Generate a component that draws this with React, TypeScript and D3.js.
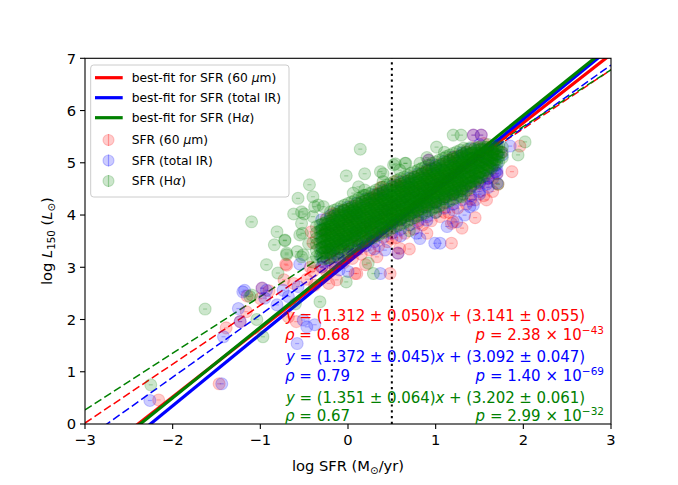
import React from "react";
import * as d3 from "d3";

// ---------- data ----------
const X_TICKS = [-3, -2, -1, 0, 1, 2, 3];
const Y_TICKS = [0, 1, 2, 3, 4, 5, 6, 7];
const X_DOMAIN = [-3, 3];
const Y_DOMAIN = [0, 7];
const VLINE_X = 0.5;

const SERIES_NAMES = ["SFR (60 μm)", "SFR (total IR)", "SFR (Hα)"];
const FIT_NAMES = ["best-fit for SFR (60 μm)", "best-fit for SFR (total IR)", "best-fit for SFR (Hα)"];

const SOLID_SLOPES = [1.312, 1.372, 1.351];
const SOLID_INTERCEPTS = [3.141, 3.092, 3.202];
const DASHED_SLOPES = [1.127, 1.195, 1.085];
const DASHED_INTERCEPTS = [3.4, 3.286, 3.525];

const EQ_SLOPE_TXT = ["1.312 ± 0.050", "1.372 ± 0.045", "1.351 ± 0.064"];
const EQ_INT_TXT = ["3.141 ± 0.055", "3.092 ± 0.047", "3.202 ± 0.061"];
const RHO_TXT = ["0.68", "0.79", "0.67"];
const P_MANT = ["2.38", "1.40", "2.99"];
const P_EXP = ["−43", "−69", "−32"];

// sparse / outlying points
const RED_POINTS: [number, number][] = [
  [-0.3, 3.0], [-0.22, 3.3], [-0.15, 3.1], [-0.08, 3.45], [0.0, 3.25], [0.05, 3.6], [0.1, 3.35], [0.15, 3.75],
  [0.2, 3.5], [0.25, 3.85], [0.3, 3.6], [0.35, 4.0], [0.4, 3.7], [0.45, 4.1], [0.5, 3.8], [0.55, 4.2],
  [0.6, 3.9], [0.65, 4.35], [0.7, 4.0], [0.75, 4.45], [0.8, 4.1], [0.85, 4.55], [0.9, 4.2], [0.95, 4.65],
  [1.0, 4.25], [1.05, 4.7], [1.1, 4.35], [1.15, 4.8], [1.2, 4.4], [1.25, 4.9], [1.3, 4.5], [1.35, 4.95],
  [1.4, 4.55], [1.45, 5.05], [1.5, 4.6], [1.55, 5.1], [1.6, 4.7], [1.65, 5.15], [1.7, 4.8], [1.75, 5.2],
  [0.3, 4.3], [0.6, 4.55], [0.9, 4.85], [1.2, 5.1], [0.0, 3.9], [-0.1, 3.7], [0.5, 3.55], [0.8, 3.85],
  [1.1, 4.05], [1.4, 4.3],
  [-2.16, 0.46], [-1.47, 0.77], [-1.39, 1.84], [-1.16, 2.15], [-0.42, 3.68], [-0.4, 3.47], [-0.71, 3.06],
  [-0.43, 3.0], [-0.73, 2.76], [-0.62, 2.69], [-0.47, 2.77], [-0.38, 2.66], [-0.68, 2.05], [-0.59, 1.96],
  [-0.17, 4.03], [-0.26, 3.68], [0.54, 4.64], [0.33, 4.4], [0.38, 4.53], [1.18, 3.46], [1.2, 3.87],
  [0.9, 3.65], [0.59, 3.36], [0.48, 2.88], [0.33, 3.2], [0.1, 2.88], [-0.13, 2.76], [-0.22, 2.69],
  [1.96, 5.32], [1.87, 4.83], [1.71, 4.59], [1.58, 4.29], [-0.4, 2.92], [0.08, 2.88], [-0.7, 3.04],
  [-1.0, 2.4], [-0.9, 2.55], [1.18, 3.84], [0.92, 5.05], [1.43, 5.53], [1.52, 5.53], [0.57, 3.27],
  [-0.98, 2.6], [-1.23, 1.96], [-1.15, 2.45], [1.45, 3.95], [1.3, 3.75], [0.7, 3.35], [0.2, 3.05],
];

const BLUE_POINTS: [number, number][] = [
  [-0.28, 3.1], [-0.2, 3.35], [-0.12, 3.2], [-0.05, 3.5], [0.02, 3.35], [0.08, 3.65], [0.14, 3.45], [0.2, 3.8],
  [0.26, 3.6], [0.32, 3.95], [0.38, 3.75], [0.44, 4.1], [0.5, 3.85], [0.56, 4.2], [0.62, 3.95], [0.68, 4.3],
  [0.74, 4.05], [0.8, 4.4], [0.86, 4.15], [0.92, 4.5], [0.98, 4.25], [1.04, 4.6], [1.1, 4.35], [1.16, 4.7],
  [1.22, 4.45], [1.28, 4.8], [1.34, 4.55], [1.4, 4.9], [1.46, 4.65], [1.52, 5.0], [1.58, 4.75], [1.64, 5.05],
  [1.7, 4.85], [1.76, 5.15], [0.4, 4.4], [0.7, 4.6], [1.0, 4.9], [1.3, 5.15], [0.1, 4.0], [0.6, 3.6],
  [0.9, 3.9], [1.2, 4.1], [1.5, 4.4], [-0.1, 2.95], [0.3, 3.35],
  [-2.26, 0.45], [-1.44, 0.77], [-1.42, 1.67], [-1.18, 2.56], [-1.25, 2.21], [-1.2, 2.53], [-0.98, 2.6],
  [-0.93, 2.56], [-0.95, 2.41], [-1.23, 1.96], [-0.55, 3.06], [-0.74, 2.56], [-0.68, 2.44], [-0.81, 2.28],
  [-0.57, 2.63], [-0.51, 1.99], [-0.47, 1.86], [-0.58, 1.54], [-0.38, 1.9], [0.92, 5.05], [0.99, 3.46],
  [0.78, 3.65], [1.24, 3.87], [1.13, 3.78], [0.57, 3.27], [0.37, 2.88], [0.0, 2.92], [0.42, 3.33],
  [1.43, 5.53], [1.52, 5.53], [1.85, 5.32], [1.58, 4.59], [1.68, 4.83], [1.43, 4.19], [1.39, 4.16],
  [1.05, 3.46], [0.82, 3.55], [1.33, 4.0],
];

const GREEN_POINTS: [number, number][] = [
  [-2.25, 0.75], [-1.63, 2.2], [-1.1, 3.87], [-1.12, 2.44], [-0.97, 1.67], [-0.93, 3.05], [-0.8, 2.89],
  [-0.81, 3.68], [-0.84, 3.43], [-0.72, 3.51], [-0.7, 3.27], [-0.57, 4.32], [-0.53, 4.06], [-0.62, 4.02],
  [-0.5, 4.02], [-0.4, 4.35], [-0.38, 4.16], [-0.4, 3.97], [-0.53, 3.84], [-0.52, 3.65], [-0.58, 3.3],
  [-0.51, 3.24], [-1.1, 2.47], [0.14, 5.26], [-0.02, 4.75], [0.19, 4.79], [0.4, 4.79], [-0.44, 4.58],
  [0.12, 4.54], [0.19, 4.48], [0.4, 4.64], [0.54, 4.98], [0.66, 4.99], [0.59, 4.86], [0.82, 4.99],
  [1.01, 5.3], [1.2, 5.53], [1.29, 5.53], [-0.34, 4.19], [-0.28, 4.16], [0.06, 4.42], [0.18, 4.38],
  [-0.05, 4.1], [0.06, 4.1], [0.29, 2.88], [-0.02, 2.72], [0.23, 3.08], [-0.32, 2.34], [2.02, 5.4],
  [1.94, 5.15], [1.71, 4.59], [-0.72, 3.52], [-0.55, 3.62], [-0.7, 3.24], [-0.53, 3.2], [0.37, 4.83],
  [0.52, 4.96], [0.65, 4.99], [-1.04, 2.0], [-0.6, 2.3], [1.35, 5.2], [1.5, 5.3], [1.6, 5.35],
  [1.0, 4.05], [1.3, 4.35], [0.7, 3.7], [-0.45, 3.45], [-0.4, 3.1], [0.9, 5.1], [1.1, 5.2],
];

// dense cores, read as columns: one x per column, the y values of that column
const GREEN_CORE_X = [
  -0.36, -0.32, -0.28, -0.24, -0.2, -0.16, -0.12, -0.08, -0.04, 0.0, 0.04, 0.08, 0.12, 0.16, 0.2, 0.24, 0.28,
  0.32, 0.36, 0.4, 0.44, 0.48, 0.52, 0.56, 0.6, 0.64, 0.68, 0.72, 0.76, 0.8, 0.84, 0.88, 0.92, 0.96, 1.0,
  1.04, 1.08, 1.12, 1.16, 1.2, 1.24, 1.28, 1.32, 1.36, 1.4, 1.44, 1.48, 1.52, 1.56, 1.6, 1.64, 1.68, 1.72, 1.76,
];
const GREEN_CORE_Y = [
  [3.2, 3.32, 3.44, 3.55, 3.66, 3.78],
  [3.22, 3.35, 3.47, 3.58, 3.7, 3.81],
  [3.16, 3.27, 3.38, 3.5, 3.61, 3.72, 3.84],
  [3.17, 3.28, 3.39, 3.5, 3.6, 3.71, 3.82, 3.93],
  [3.18, 3.3, 3.4, 3.51, 3.62, 3.73, 3.84, 3.95, 4.06],
  [3.21, 3.33, 3.43, 3.55, 3.65, 3.77, 3.87, 3.98, 4.09],
  [3.24, 3.36, 3.46, 3.57, 3.68, 3.8, 3.9, 4.01, 4.12],
  [3.28, 3.39, 3.5, 3.61, 3.72, 3.83, 3.94, 4.05, 4.16],
  [3.31, 3.42, 3.53, 3.64, 3.75, 3.86, 3.97, 4.08, 4.19],
  [3.34, 3.45, 3.56, 3.67, 3.78, 3.89, 4.0, 4.11, 4.22],
  [3.37, 3.48, 3.59, 3.7, 3.81, 3.92, 4.03, 4.14, 4.25],
  [3.4, 3.51, 3.62, 3.73, 3.84, 3.95, 4.06, 4.17, 4.28],
  [3.44, 3.55, 3.66, 3.77, 3.88, 3.99, 4.1, 4.21, 4.32],
  [3.47, 3.58, 3.69, 3.8, 3.91, 4.02, 4.13, 4.24, 4.35],
  [3.5, 3.61, 3.72, 3.83, 3.94, 4.05, 4.16, 4.27, 4.38],
  [3.53, 3.64, 3.75, 3.86, 3.97, 4.08, 4.19, 4.3, 4.41],
  [3.56, 3.67, 3.78, 3.89, 4.0, 4.11, 4.22, 4.33, 4.44],
  [3.6, 3.71, 3.82, 3.93, 4.04, 4.15, 4.26, 4.37, 4.48],
  [3.63, 3.74, 3.85, 3.96, 4.07, 4.18, 4.29, 4.4, 4.51],
  [3.66, 3.77, 3.88, 3.99, 4.1, 4.21, 4.32, 4.43, 4.54],
  [3.69, 3.8, 3.91, 4.02, 4.13, 4.24, 4.35, 4.46, 4.57],
  [3.72, 3.83, 3.94, 4.05, 4.16, 4.27, 4.38, 4.49, 4.6],
  [3.76, 3.87, 3.98, 4.09, 4.2, 4.31, 4.42, 4.53, 4.64],
  [3.79, 3.9, 4.01, 4.12, 4.23, 4.34, 4.45, 4.56, 4.67],
  [3.82, 3.93, 4.04, 4.15, 4.26, 4.37, 4.48, 4.59, 4.7],
  [3.85, 3.96, 4.07, 4.18, 4.29, 4.4, 4.51, 4.62, 4.73],
  [3.88, 3.99, 4.1, 4.21, 4.32, 4.43, 4.54, 4.65, 4.76],
  [3.92, 4.03, 4.14, 4.25, 4.36, 4.47, 4.58, 4.69, 4.8],
  [3.95, 4.06, 4.17, 4.28, 4.39, 4.5, 4.61, 4.72, 4.83],
  [3.98, 4.09, 4.2, 4.31, 4.42, 4.53, 4.64, 4.75, 4.86],
  [4.01, 4.12, 4.23, 4.34, 4.45, 4.56, 4.67, 4.78, 4.89],
  [4.04, 4.15, 4.26, 4.37, 4.48, 4.59, 4.7, 4.81, 4.92],
  [4.08, 4.19, 4.3, 4.41, 4.52, 4.63, 4.74, 4.85, 4.96],
  [4.11, 4.22, 4.33, 4.44, 4.55, 4.66, 4.77, 4.88, 4.99],
  [4.14, 4.25, 4.36, 4.47, 4.58, 4.69, 4.8, 4.91, 5.02],
  [4.17, 4.28, 4.39, 4.5, 4.61, 4.72, 4.83, 4.94, 5.05],
  [4.2, 4.31, 4.42, 4.53, 4.64, 4.75, 4.86, 4.97, 5.08],
  [4.24, 4.35, 4.46, 4.57, 4.68, 4.79, 4.9, 5.01, 5.12],
  [4.27, 4.38, 4.49, 4.6, 4.71, 4.82, 4.93, 5.04, 5.15],
  [4.3, 4.41, 4.52, 4.63, 4.74, 4.85, 4.96, 5.07, 5.18],
  [4.33, 4.44, 4.55, 4.66, 4.77, 4.88, 4.99, 5.1, 5.21],
  [4.36, 4.47, 4.58, 4.69, 4.8, 4.91, 5.02, 5.13, 5.24],
  [4.4, 4.51, 4.62, 4.73, 4.84, 4.95, 5.06, 5.17, 5.28],
  [4.48, 4.6, 4.71, 4.82, 4.93, 5.04, 5.15, 5.26],
  [4.52, 4.63, 4.74, 4.85, 4.96, 5.07, 5.18, 5.29],
  [4.6, 4.71, 4.82, 4.93, 5.04, 5.15, 5.26],
  [4.63, 4.74, 4.85, 4.96, 5.07, 5.18, 5.29],
  [4.72, 4.83, 4.94, 5.05, 5.16, 5.27],
  [4.75, 4.86, 4.97, 5.08, 5.19, 5.3],
  [4.84, 4.95, 5.06, 5.17, 5.28],
  [4.9, 5.0, 5.1, 5.2, 5.3],
  [4.96, 5.06, 5.16, 5.26],
  [5.02, 5.12, 5.22, 5.32],
  [5.1, 5.2, 5.3],
];

// inner, most crowded part of the green band
const GREEN_INNER_X = [
  -0.3, -0.26, -0.22, -0.18, -0.14, -0.1, -0.06, -0.02, 0.02, 0.06, 0.1, 0.14, 0.18, 0.22, 0.26, 0.3, 0.34,
  0.38, 0.42, 0.46, 0.5, 0.54, 0.58, 0.62, 0.66, 0.7, 0.74, 0.78, 0.82, 0.86, 0.9, 0.94, 0.98, 1.02, 1.06,
  1.1, 1.14, 1.18, 1.22, 1.26, 1.3, 1.34, 1.38, 1.42, 1.46, 1.5, 1.54, 1.58, 1.62, 1.66, 1.7,
];
const GREEN_INNER_Y = [
  [3.27, 3.38, 3.49, 3.6, 3.71, 3.82],
  [3.3, 3.41, 3.52, 3.63, 3.74, 3.85],
  [3.33, 3.44, 3.55, 3.66, 3.77, 3.88],
  [3.36, 3.47, 3.58, 3.69, 3.8, 3.91],
  [3.39, 3.5, 3.61, 3.72, 3.83, 3.94],
  [3.43, 3.54, 3.65, 3.76, 3.87, 3.98],
  [3.46, 3.57, 3.68, 3.79, 3.9, 4.01],
  [3.49, 3.6, 3.71, 3.82, 3.93, 4.04],
  [3.52, 3.63, 3.74, 3.85, 3.96, 4.07],
  [3.55, 3.66, 3.77, 3.88, 3.99, 4.1],
  [3.59, 3.7, 3.81, 3.92, 4.03, 4.14],
  [3.62, 3.73, 3.84, 3.95, 4.06, 4.17],
  [3.65, 3.76, 3.87, 3.98, 4.09, 4.2],
  [3.68, 3.79, 3.9, 4.01, 4.12, 4.23],
  [3.71, 3.82, 3.93, 4.04, 4.15, 4.26],
  [3.75, 3.86, 3.97, 4.08, 4.19, 4.3],
  [3.78, 3.89, 4.0, 4.11, 4.22, 4.33],
  [3.81, 3.92, 4.03, 4.14, 4.25, 4.36],
  [3.84, 3.95, 4.06, 4.17, 4.28, 4.39],
  [3.87, 3.98, 4.09, 4.2, 4.31, 4.42],
  [3.91, 4.02, 4.13, 4.24, 4.35, 4.46],
  [3.94, 4.05, 4.16, 4.27, 4.38, 4.49],
  [3.97, 4.08, 4.19, 4.3, 4.41, 4.52],
  [4.0, 4.11, 4.22, 4.33, 4.44, 4.55],
  [4.03, 4.14, 4.25, 4.36, 4.47, 4.58],
  [4.07, 4.18, 4.29, 4.4, 4.51, 4.62],
  [4.1, 4.21, 4.32, 4.43, 4.54, 4.65],
  [4.13, 4.24, 4.35, 4.46, 4.57, 4.68],
  [4.16, 4.27, 4.38, 4.49, 4.6, 4.71],
  [4.19, 4.3, 4.41, 4.52, 4.63, 4.74],
  [4.23, 4.34, 4.45, 4.56, 4.67, 4.78],
  [4.26, 4.37, 4.48, 4.59, 4.7, 4.81],
  [4.29, 4.4, 4.51, 4.62, 4.73, 4.84],
  [4.32, 4.43, 4.54, 4.65, 4.76, 4.87],
  [4.35, 4.46, 4.57, 4.68, 4.79, 4.9],
  [4.39, 4.5, 4.61, 4.72, 4.83, 4.94],
  [4.42, 4.53, 4.64, 4.75, 4.86, 4.97],
  [4.45, 4.56, 4.67, 4.78, 4.89, 5.0],
  [4.48, 4.59, 4.7, 4.81, 4.92, 5.03],
  [4.51, 4.62, 4.73, 4.84, 4.95, 5.06],
  [4.55, 4.66, 4.77, 4.88, 4.99, 5.1],
  [4.58, 4.69, 4.8, 4.91, 5.02, 5.13],
  [4.61, 4.72, 4.83, 4.94, 5.05, 5.16],
  [4.64, 4.75, 4.86, 4.97, 5.08, 5.19],
  [4.68, 4.79, 4.9, 5.01, 5.12, 5.23],
  [4.71, 4.82, 4.93, 5.04, 5.15, 5.26],
  [4.8, 4.91, 5.02, 5.13, 5.24],
  [4.86, 4.97, 5.08, 5.19, 5.3],
  [4.92, 5.03, 5.14, 5.25],
  [4.98, 5.09, 5.2, 5.31],
  [5.06, 5.17, 5.28],
];

const BLUE_CORE_X = [-0.3, -0.2, -0.1, 0.0, 0.1, 0.2, 0.3, 0.4, 0.5, 0.6, 0.7, 0.8, 0.9, 1.0, 1.1, 1.2, 1.3, 1.4, 1.5, 1.6, 1.7];
const BLUE_CORE_Y = [
  [3.01, 3.19, 3.37, 3.55, 3.73, 3.91],
  [3.09, 3.27, 3.45, 3.63, 3.81, 3.99],
  [3.17, 3.35, 3.53, 3.71, 3.89, 4.07],
  [3.25, 3.43, 3.61, 3.79, 3.97, 4.15],
  [3.33, 3.51, 3.69, 3.87, 4.05, 4.23],
  [3.41, 3.59, 3.77, 3.95, 4.13, 4.31],
  [3.49, 3.67, 3.85, 4.03, 4.21, 4.39],
  [3.57, 3.75, 3.93, 4.11, 4.29, 4.47],
  [3.65, 3.83, 4.01, 4.19, 4.37, 4.55],
  [3.73, 3.91, 4.09, 4.27, 4.45, 4.63],
  [3.81, 3.99, 4.17, 4.35, 4.53, 4.71],
  [3.89, 4.07, 4.25, 4.43, 4.61, 4.79],
  [3.97, 4.15, 4.33, 4.51, 4.69, 4.87],
  [4.05, 4.23, 4.41, 4.59, 4.77, 4.95],
  [4.13, 4.31, 4.49, 4.67, 4.85, 5.03],
  [4.21, 4.39, 4.57, 4.75, 4.93, 5.11],
  [4.29, 4.47, 4.65, 4.83, 5.01, 5.19],
  [4.37, 4.55, 4.73, 4.91, 5.09, 5.27],
  [4.45, 4.63, 4.81, 4.99, 5.17, 5.35],
  [4.53, 4.71, 4.89, 5.07, 5.25],
  [4.61, 4.79, 4.97, 5.15, 5.33],
];

const RED_CORE_X = [-0.25, -0.15, -0.05, 0.05, 0.15, 0.25, 0.35, 0.45, 0.55, 0.65, 0.75, 0.85, 0.95, 1.05, 1.15, 1.25, 1.35, 1.45, 1.55, 1.65];
const RED_CORE_Y = [
  [2.93, 3.18, 3.43, 3.68, 3.93],
  [3.01, 3.26, 3.51, 3.76, 4.01],
  [3.09, 3.34, 3.59, 3.84, 4.09],
  [3.17, 3.42, 3.67, 3.92, 4.17],
  [3.25, 3.5, 3.75, 4.0, 4.25],
  [3.33, 3.58, 3.83, 4.08, 4.33],
  [3.41, 3.66, 3.91, 4.16, 4.41],
  [3.49, 3.74, 3.99, 4.24, 4.49],
  [3.57, 3.82, 4.07, 4.32, 4.57],
  [3.65, 3.9, 4.15, 4.4, 4.65],
  [3.73, 3.98, 4.23, 4.48, 4.73],
  [3.81, 4.06, 4.31, 4.56, 4.81],
  [3.89, 4.14, 4.39, 4.64, 4.89],
  [3.97, 4.22, 4.47, 4.72, 4.97],
  [4.05, 4.3, 4.55, 4.8, 5.05],
  [4.13, 4.38, 4.63, 4.88, 5.13],
  [4.21, 4.46, 4.71, 4.96, 5.21],
  [4.29, 4.54, 4.79, 5.04, 5.29],
  [4.37, 4.62, 4.87, 5.12, 5.37],
  [4.45, 4.7, 4.95, 5.2],
];

const COLORS = ["#ff0000", "#0000ff", "#008000"];

// ---------- layout ----------
const W = 678;
const H = 485;
const LEFT = 85;
const RIGHT = 611;
const TOP = 58.3;
const BOTTOM = 424;
const FONT = "DejaVu Sans, Verdana, sans-serif";

function columns(xs: number[], ys: number[][]): [number, number][] {
  const out: [number, number][] = [];
  xs.forEach((xv, i) => ys[i].forEach((yv) => out.push([xv, yv])));
  return out;
}

export default function App() {
  const x = d3.scaleLinear().domain(X_DOMAIN).range([LEFT, RIGHT]);
  const y = d3.scaleLinear().domain(Y_DOMAIN).range([BOTTOM, TOP]);

  const allPoints = [
    [...RED_POINTS, ...columns(RED_CORE_X, RED_CORE_Y)],
    [...BLUE_POINTS, ...columns(BLUE_CORE_X, BLUE_CORE_Y)],
    [...GREEN_POINTS, ...columns(GREEN_CORE_X, GREEN_CORE_Y), ...columns(GREEN_INNER_X, GREEN_INNER_Y)],
  ];

  const fitPath = (m: number, b: number) =>
    d3
      .line<number>()
      .x((d) => x(d))
      .y((d) => y(m * d + b))(X_DOMAIN) as string;

  const eqBase = [321, 362, 403];
  const rhoBase = [340, 381, 421];
  const FS = 15;

  return (
    <svg
      width={W}
      height={H}
      style={{ position: "absolute", left: 0, top: 0, background: "#fff" }}
      fontFamily={FONT}
    >
      <defs>
        <clipPath id="plotclip">
          <rect x={LEFT} y={TOP} width={RIGHT - LEFT} height={BOTTOM - TOP} />
        </clipPath>
      </defs>
      <rect x={0} y={0} width={W} height={H} fill="#fff" />

      <g clipPath="url(#plotclip)">
        {DASHED_SLOPES.map((m, i) => (
          <path
            key={"d" + i}
            d={fitPath(m, DASHED_INTERCEPTS[i])}
            fill="none"
            stroke={COLORS[i]}
            strokeWidth={1.5}
            strokeDasharray="8,3.5"
          />
        ))}
        {SOLID_SLOPES.map((m, i) => (
          <path
            key={"s" + i}
            d={fitPath(m, SOLID_INTERCEPTS[i])}
            fill="none"
            stroke={COLORS[i]}
            strokeWidth={3.2}
          />
        ))}
        <line
          x1={x(VLINE_X)}
          x2={x(VLINE_X)}
          y1={y(Y_DOMAIN[0])}
          y2={y(Y_DOMAIN[1])}
          stroke="#000"
          strokeWidth={2}
          strokeDasharray="2.2,3.6"
        />
        {allPoints.map((pts, si) => (
          <g key={si}>
            {pts.map((p, i) => (
              <g key={i}>
                <circle
                  cx={x(p[0])}
                  cy={y(p[1])}
                  r={6}
                  fill={COLORS[si]}
                  fillOpacity={0.2}
                  stroke={COLORS[si]}
                  strokeOpacity={0.2}
                  strokeWidth={1.1}
                />
                <line
                  x1={x(p[0]) - 2}
                  x2={x(p[0]) + 2}
                  y1={y(p[1])}
                  y2={y(p[1])}
                  stroke={COLORS[si]}
                  strokeOpacity={0.25}
                  strokeWidth={1.2}
                />
              </g>
            ))}
          </g>
        ))}
      </g>

      <rect
        x={LEFT}
        y={TOP}
        width={RIGHT - LEFT}
        height={BOTTOM - TOP}
        fill="none"
        stroke="#000"
        strokeWidth={1.1}
      />

      {X_TICKS.map((t) => (
        <g key={"xt" + t}>
          <line x1={x(t)} x2={x(t)} y1={BOTTOM} y2={BOTTOM + 5} stroke="#000" strokeWidth={1.1} />
          <text x={x(t)} y={BOTTOM + 21} fontSize={14.7} textAnchor="middle" fill="#000">
            {t < 0 ? "−" + Math.abs(t) : String(t)}
          </text>
        </g>
      ))}
      {Y_TICKS.map((t) => (
        <g key={"yt" + t}>
          <line x1={LEFT - 5} x2={LEFT} y1={y(t)} y2={y(t)} stroke="#000" strokeWidth={1.1} />
          <text x={LEFT - 9} y={y(t) + 5.3} fontSize={14.7} textAnchor="end" fill="#000">
            {String(t)}
          </text>
        </g>
      ))}

      <text x={(LEFT + RIGHT) / 2} y={471} fontSize={14.7} textAnchor="middle" fill="#000">
        log SFR (M
        <tspan fontSize={10.3} dy={3}>⊙</tspan>
        <tspan dy={-3}>/yr)</tspan>
      </text>
      <text
        transform={`translate(52,${(TOP + BOTTOM) / 2}) rotate(-90)`}
        fontSize={14.7}
        textAnchor="middle"
        fill="#000"
      >
        log <tspan fontStyle="italic">L</tspan>
        <tspan fontSize={10.3} dy={3}>150</tspan>
        <tspan dy={-3}> (</tspan>
        <tspan fontStyle="italic">L</tspan>
        <tspan fontSize={10.3} dy={3}>⊙</tspan>
        <tspan dy={-3}>)</tspan>
      </text>

      {COLORS.map((c, i) => (
        <g key={"ann" + i} fill={c} fontSize={FS}>
          <text x={286} y={eqBase[i]} textLength={299} lengthAdjust="spacing">
            <tspan fontStyle="italic">y</tspan>
            <tspan> = ({EQ_SLOPE_TXT[i]})</tspan>
            <tspan fontStyle="italic">x</tspan>
            <tspan> + ({EQ_INT_TXT[i]})</tspan>
          </text>
          <text x={285} y={rhoBase[i]}>
            <tspan fontStyle="italic">ρ</tspan>
            <tspan> = {RHO_TXT[i]}</tspan>
          </text>
          <text x={604} y={rhoBase[i]} textAnchor="end">
            <tspan fontStyle="italic">p</tspan>
            <tspan> = {P_MANT[i]} × 10</tspan>
            <tspan fontSize={10.5} dy={-6}>{P_EXP[i]}</tspan>
          </text>
        </g>
      ))}

      <g>
        <rect x={90.7} y={65} width={198.3} height={132} rx={3} fill="#fff" fillOpacity={0.8} stroke="#cccccc" strokeWidth={1} />
        {FIT_NAMES.map((n, i) => {
          const ry = 77.7 + i * 20;
          return (
            <g key={"lf" + i}>
              <line x1={95} x2={122.7} y1={ry} y2={ry} stroke={COLORS[i]} strokeWidth={3.2} />
              <text x={131.7} y={ry + 4.4} fontSize={12.3} fill="#000">
                {n.includes("μ") ? (
                  <>
                    best-fit for SFR (60 <tspan fontStyle="italic">μ</tspan>m)
                  </>
                ) : n.includes("α") ? (
                  <>
                    best-fit for SFR (H<tspan fontStyle="italic">α</tspan>)
                  </>
                ) : (
                  n
                )}
              </text>
            </g>
          );
        })}
        {SERIES_NAMES.map((n, i) => {
          const ry = 140 + i * 20.5;
          return (
            <g key={"ls" + i}>
              <circle cx={108.5} cy={ry} r={5.5} fill={COLORS[i]} fillOpacity={0.2} stroke={COLORS[i]} strokeOpacity={0.2} strokeWidth={1.2} />
              <line x1={108.5} x2={108.5} y1={ry - 6} y2={ry + 6} stroke={COLORS[i]} strokeOpacity={0.3} strokeWidth={1.2} />
              <text x={131.7} y={ry + 4.4} fontSize={12.3} fill="#000">
                {n.includes("μ") ? (
                  <>
                    SFR (60 <tspan fontStyle="italic">μ</tspan>m)
                  </>
                ) : n.includes("α") ? (
                  <>
                    SFR (H<tspan fontStyle="italic">α</tspan>)
                  </>
                ) : (
                  n
                )}
              </text>
            </g>
          );
        })}
      </g>
    </svg>
  );
}
